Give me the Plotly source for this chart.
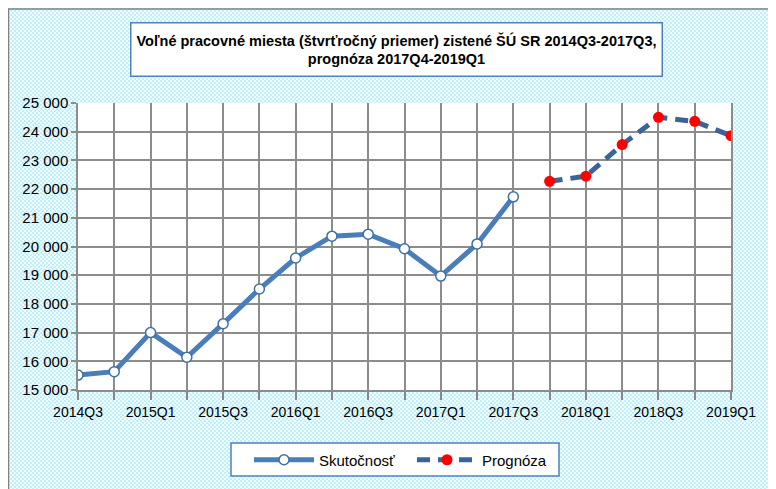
import base64
import plotly.graph_objects as go

# ---- data ----
quarters = ["2014Q3", "2014Q4",
            "2015Q1", "2015Q2", "2015Q3", "2015Q4",
            "2016Q1", "2016Q2", "2016Q3", "2016Q4",
            "2017Q1", "2017Q2", "2017Q3", "2017Q4",
            "2018Q1", "2018Q2", "2018Q3", "2018Q4",
            "2019Q1"]
actual_q = quarters[:13]
actual_v = [15520, 15640, 17000, 16140, 17310, 18520, 19600, 20360, 20430,
            19920, 18970, 20090, 21730]
fcst_q = quarters[13:]
fcst_v = [22270, 22450, 23550, 24500, 24360, 23860]
y_ticks = [15000, 16000, 17000, 18000, 19000, 20000, 21000, 22000, 23000, 24000, 25000]
x_labels = [q if i % 2 == 0 else "" for i, q in enumerate(quarters)]

title_text = ("<b>Voľné pracovné miesta (štvrťročný priemer) zistené ŠÚ SR 2014Q3-2017Q3,"
              "<br>prognóza 2017Q4-2019Q1</b>")

FONT = "Liberation Sans, Arial, sans-serif"

OFF = 8  # page body margin offset
W, H = 768, 481
L, R, T, B = 70, 45, 95, 99
pw, ph = W - L - R, H - T - B


def px2x(p):
    return (p - OFF - L) / pw


def px2y(p):
    return (H - B - (p - OFF)) / ph


# dotted light-cyan background pattern (decoration)
svg = f'''<svg xmlns="http://www.w3.org/2000/svg" width="{W}" height="{H}" viewBox="0 0 {W} {H}">
<defs><pattern id="p" width="4" height="4" patternUnits="userSpaceOnUse">
<rect width="4" height="4" fill="#f2fcfe"/>
<circle cx="1" cy="1" r="0.95" fill="#a9ecfa"/>
<circle cx="3" cy="3" r="0.95" fill="#a9ecfa"/>
</pattern></defs>
<rect width="{W}" height="{H}" fill="url(#p)"/>
</svg>'''
src = "data:image/svg+xml;base64," + base64.b64encode(svg.encode()).decode()

fig = go.Figure()
fig.add_trace(go.Scatter(
    x=actual_q, y=actual_v, name="Skutočnosť", mode="lines+markers",
    line=dict(color="#4a7ebb", width=5),
    marker=dict(symbol="circle", size=10, color="white",
                line=dict(color="#3f6fa8", width=1.5)),
))
fig.add_trace(go.Scatter(
    x=fcst_q, y=fcst_v, name="Prognóza", mode="lines+markers",
    line=dict(color="#3a6496", width=5, dash="13px,8px"),
    marker=dict(symbol="circle", size=11, color="#ff0000"),
))

fig.update_layout(
    width=W, height=H,
    margin=dict(l=L, r=R, t=T, b=B, pad=0),
    paper_bgcolor="white", plot_bgcolor="white",
    font=dict(family=FONT, size=14, color="#000000"),
    separators=". ",
    showlegend=True,
    legend=dict(orientation="h", x=px2x(249), y=px2y(460), xanchor="left", yanchor="middle",
                bgcolor="rgba(0,0,0,0)", borderwidth=0,
                font=dict(family=FONT, size=15), itemwidth=60,
                entrywidth=88, tracegroupgap=0),
    xaxis=dict(type="category", categoryorder="array", categoryarray=quarters,
               range=[0, len(quarters) - 1],
               tickmode="array", tickvals=quarters, ticktext=x_labels,
               ticks="outside", ticklen=8, tickcolor="#888888", tickwidth=1.5,
               showgrid=True, gridcolor="#8c8c8c", gridwidth=1.5,
               showline=True, linecolor="#8c8c8c", linewidth=1.5,
               tickfont=dict(family=FONT, size=14), zeroline=False),
    yaxis=dict(range=[15000, 25000], tickmode="array", tickvals=y_ticks,
               tickformat=",d", ticks="outside", ticklen=5, tickcolor="#8c8c8c",
               tickwidth=1.5, showgrid=True, gridcolor="#8c8c8c", gridwidth=1.5,
               showline=True, linecolor="#8c8c8c", linewidth=1.5, mirror=True,
               tickfont=dict(family=FONT, size=15), zeroline=False),
    images=[dict(source=src, xref="paper", yref="paper",
                 x=px2x(OFF), y=px2y(OFF), sizex=W / pw, sizey=H / ph,
                 xanchor="left", yanchor="top", sizing="stretch", layer="below")],
    shapes=[
        dict(type="rect", xref="paper", yref="paper", x0=0, x1=1, y0=0, y1=1,
             fillcolor="white", line=dict(width=0), layer="below"),
        dict(type="rect", xref="paper", yref="paper",
             x0=px2x(8.5), x1=px2x(OFF + W + 5), y0=px2y(OFF + H + 5), y1=px2y(9),
             line=dict(color="#808080", width=1.5), layer="above"),
        dict(type="rect", xref="paper", yref="paper",
             x0=px2x(231), x1=px2x(559), y0=px2y(476), y1=px2y(443),
             fillcolor="white", line=dict(color="#4f81bd", width=1.5), layer="above"),
    ],
    annotations=[dict(text=title_text, xref="paper", yref="paper",
                      x=px2x(396), y=px2y(49), xanchor="center", yanchor="middle",
                      showarrow=False, align="center",
                      font=dict(family=FONT, size=14.5, color="#000000"),
                      bgcolor="white", bordercolor="#4f81bd", borderwidth=1.5,
                      width=528, height=50)],
)

fig.write_html("out.html")
